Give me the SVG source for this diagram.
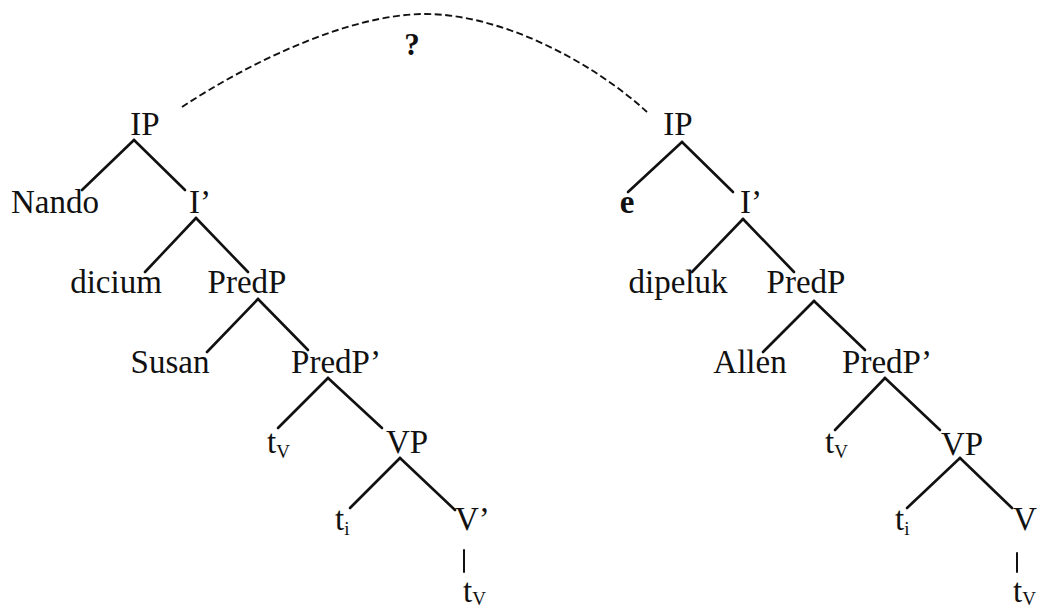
<svg xmlns="http://www.w3.org/2000/svg" width="1040" height="613" viewBox="0 0 1040 613">
<style>
text{font-family:"Liberation Serif","Times New Roman",serif;font-size:33px;fill:#111}
.m{text-anchor:middle}
.sub{font-size:19px}
.b{font-weight:bold}
.edge{stroke:#111;stroke-width:2.6;fill:none;stroke-linecap:round}
.dash{stroke:#111;stroke-width:1.9;fill:none;stroke-dasharray:7 3.5}
</style>
<rect width="1040" height="613" fill="#fff"/>
<g id="connectors">
<path class="dash" d="M182,107 C250,62 350,14 425,14 C500,14 590,60 647,112"/>
<line class="edge" x1="134" y1="140" x2="82" y2="190"/>
<line class="edge" x1="134" y1="140" x2="185" y2="190"/>
<line class="edge" x1="196" y1="218" x2="145" y2="272"/>
<line class="edge" x1="196" y1="218" x2="248" y2="272"/>
<line class="edge" x1="258" y1="299" x2="207" y2="352"/>
<line class="edge" x1="258" y1="299" x2="308" y2="350"/>
<line class="edge" x1="328" y1="378" x2="278" y2="428"/>
<line class="edge" x1="328" y1="378" x2="382" y2="428"/>
<line class="edge" x1="400" y1="458" x2="350" y2="508"/>
<line class="edge" x1="400" y1="458" x2="455" y2="510"/>
<line class="edge" x1="464" y1="550" x2="464" y2="572" style="stroke-width:2"/>
<line class="edge" x1="682" y1="142" x2="628" y2="192"/>
<line class="edge" x1="682" y1="142" x2="733" y2="192"/>
<line class="edge" x1="743" y1="219" x2="692" y2="272"/>
<line class="edge" x1="743" y1="219" x2="794" y2="272"/>
<line class="edge" x1="814" y1="301" x2="763" y2="352"/>
<line class="edge" x1="814" y1="301" x2="865" y2="350"/>
<line class="edge" x1="885" y1="378" x2="835" y2="430"/>
<line class="edge" x1="885" y1="378" x2="940" y2="430"/>
<line class="edge" x1="960" y1="458" x2="907" y2="508"/>
<line class="edge" x1="960" y1="458" x2="1012" y2="508"/>
<line class="edge" x1="1017" y1="553" x2="1017" y2="572" style="stroke-width:2"/>
</g>
<g id="question"><text class="m b" x="412" y="55" style="font-size:31px">?</text></g>
<g id="L-IP"><text class="m" x="145" y="135">IP</text></g>
<g id="L-Nando"><text class="m" x="55" y="213">Nando</text></g>
<g id="L-Ibar"><text class="m" x="200" y="213">I’</text></g>
<g id="L-dicium"><text class="m" x="116" y="293">dicium</text></g>
<g id="L-PredP"><text class="m" x="247" y="293">PredP</text></g>
<g id="L-Susan"><text class="m" x="170" y="373">Susan</text></g>
<g id="L-PredPbar"><text class="m" x="336" y="373">PredP’</text></g>
<g id="L-tv1"><text x="267" y="453">t<tspan class="sub" dy="5">V</tspan></text></g>
<g id="L-VP"><text class="m" x="407" y="453">VP</text></g>
<g id="L-ti"><text x="335" y="530">t<tspan class="sub" dy="5">i</tspan></text></g>
<g id="L-Vbar"><text x="455" y="530">V’</text></g>
<g id="L-tv2"><text x="463" y="602">t<tspan class="sub" dy="3">V</tspan></text></g>
<g id="R-IP"><text class="m" x="678" y="135">IP</text></g>
<g id="R-e"><text class="m b" x="627" y="213">e</text></g>
<g id="R-Ibar"><text class="m" x="751" y="213">I’</text></g>
<g id="R-dipeluk"><text class="m" x="678" y="293">dipeluk</text></g>
<g id="R-PredP"><text class="m" x="806" y="293">PredP</text></g>
<g id="R-Allen"><text class="m" x="750" y="373">Allen</text></g>
<g id="R-PredPbar"><text class="m" x="887" y="373">PredP’</text></g>
<g id="R-tv1"><text x="825" y="453">t<tspan class="sub" dy="5">V</tspan></text></g>
<g id="R-VP"><text class="m" x="962" y="455">VP</text></g>
<g id="R-ti"><text x="895" y="530">t<tspan class="sub" dy="5">i</tspan></text></g>
<g id="R-V"><text x="1013" y="530">V</text></g>
<g id="R-tv2"><text x="1013" y="602">t<tspan class="sub" dy="3">V</tspan></text></g>
</svg>
